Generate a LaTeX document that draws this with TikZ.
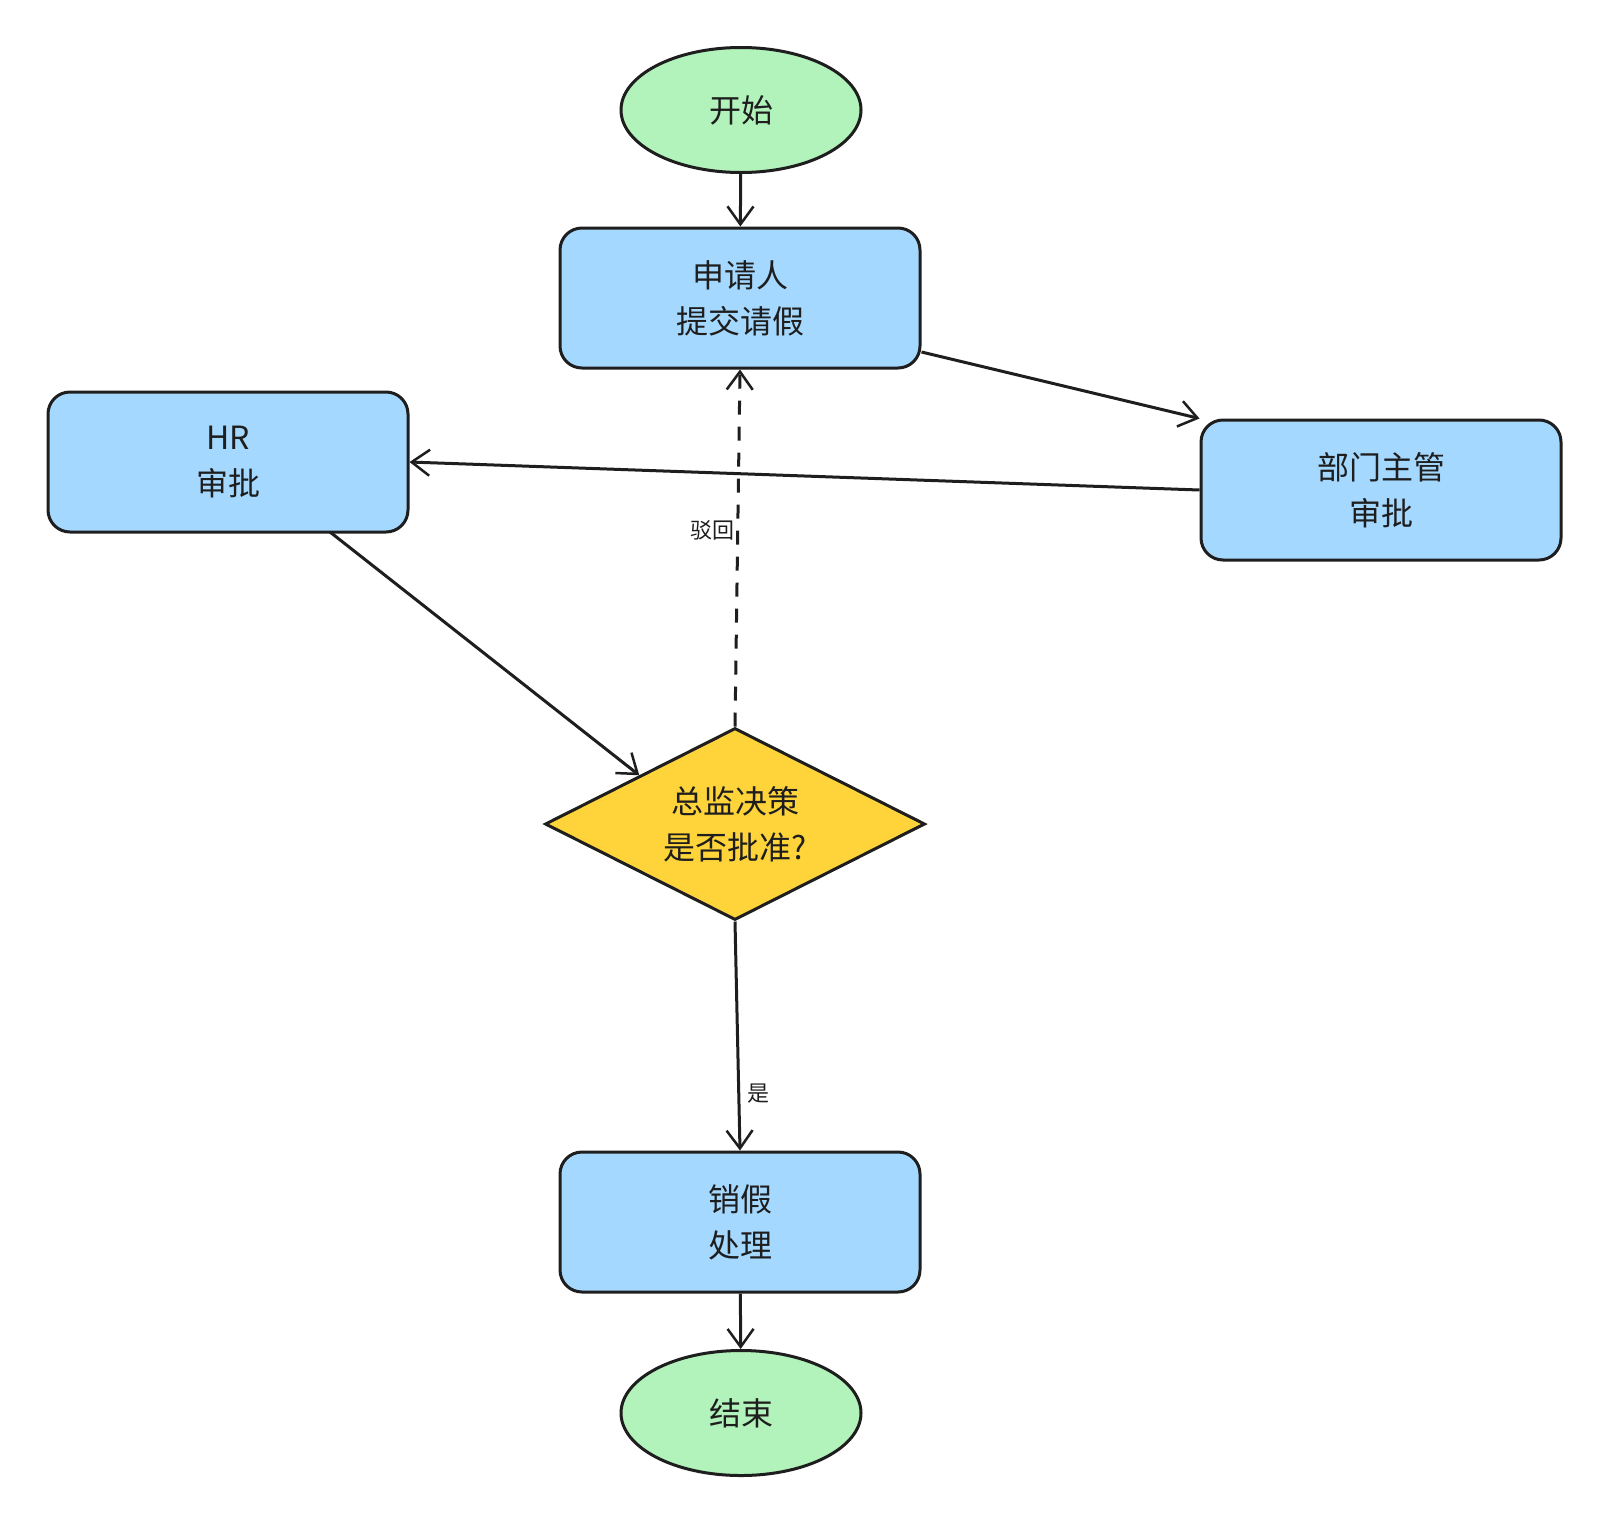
\documentclass[tikz,border=0pt]{standalone}
\usepackage{fontspec}
\setmainfont{Noto Sans CJK SC}
\usetikzlibrary{shapes.geometric,arrows.meta}
\definecolor{gr}{HTML}{B2F2BB}
\definecolor{bl}{HTML}{A5D8FF}
\definecolor{ye}{HTML}{FFD43B}
\definecolor{ink}{HTML}{1E1E1E}
\begin{document}
\begin{tikzpicture}[x=1pt,y=-1pt,
  base/.style={draw=ink,line width=3pt,align=center,font=\fontsize{32}{46}\selectfont,text=ink},
  term/.style={base,ellipse,fill=gr,minimum width=240pt,minimum height=125pt},
  box/.style={base,rectangle,rounded corners=22pt,fill=bl,minimum width=360pt,minimum height=140pt},
  dec/.style={base,diamond,fill=ye,minimum width=380pt,minimum height=192pt,inner sep=0pt,aspect=2},
  arr/.style={draw=ink,line width=3pt,-{Straight Barb[length=18pt,width=26pt,line width=2.5pt]}},
  lab/.style={font=\fontsize{22}{26}\selectfont,text=ink}]
\useasboundingbox (0,0) rectangle (1605,1523);
\node[term] (s) at (741,110) {开始};
\node[box] (a) at (740,298) {申请人\\提交请假};
\node[box] (hr) at (228,462) {HR\\审批};
\node[box] (d) at (1381,490) {部门主管\\审批};
\node[dec] (q) at (735,824) {总监决策\\是否批准?};
\node[box] (x) at (740,1222) {销假\\处理};
\node[term] (e) at (741,1413) {结束};
\draw[arr] (s) -- (a);
\draw[arr] (a.east |- 0,352) -- (d.north west);
\draw[arr] (d.west) -- (hr.east);
\draw[arr] (330,532) -- (q.north west);
\draw[arr,dashed,dash pattern=on 14pt off 12pt] (q.north) -- (a.south) node[lab,pos=0.55,left=-2pt] {驳回};
\draw[arr] (q.south) -- (x.north) node[lab,pos=0.75,right=4pt] {是};
\draw[arr] (x) -- (e);
\end{tikzpicture}
\end{document}
